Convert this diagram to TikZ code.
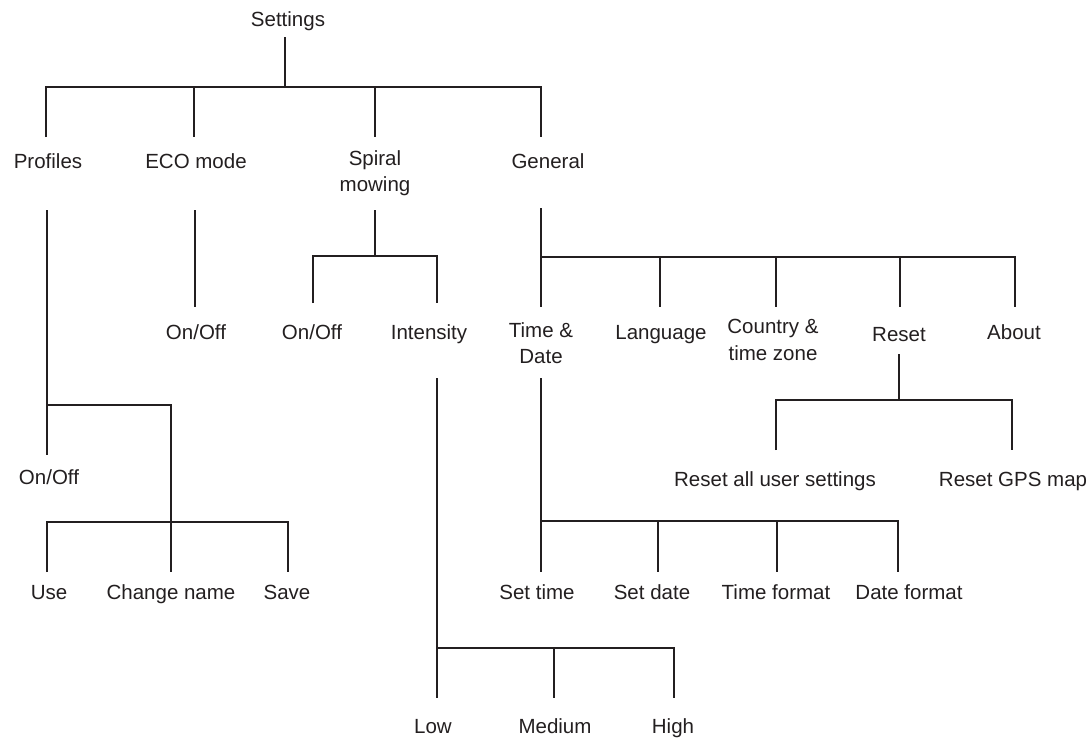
\documentclass[tikz,border=0pt]{standalone}
\usepackage{fontspec}
\setmainfont{Liberation Sans}
\definecolor{ink}{HTML}{231F20}
\begin{document}
\begin{tikzpicture}[x=1pt,y=-1pt,
  lbl/.style={inner sep=0pt,align=center,text=ink,font=\fontsize{20.5}{26.5}\selectfont},
  one/.style={lbl,anchor=base},
  ln/.style={draw=ink,line width=2.2pt}]
\useasboundingbox (0,0) rectangle (1092,739);
% nodes (single-line nodes placed by baseline)
\node[one] (settings) at (288,26) {Settings};
\node[one] (profiles) at (48,168) {Profiles};
\node[one] (eco) at (196,168) {ECO mode};
\node[lbl] (spiral) at (375,173) {Spiral\\mowing};
\node[one] (general) at (548,168) {General};
\node[one] (pon) at (49,484) {On/Off};
\node[one] (use) at (49,599) {Use};
\node[one] (chname) at (171,599) {Change name};
\node[one] (save) at (287,599) {Save};
\node[one] (ecoon) at (196,339) {On/Off};
\node[one] (spon) at (312,339) {On/Off};
\node[one] (intens) at (429,339) {Intensity};
\node[one] (low) at (433,733) {Low};
\node[one] (medium) at (555,733) {Medium};
\node[one] (high) at (673,733) {High};
\node[lbl] (timedate) at (541,343) {Time \&\\Date};
\node[one] (language) at (661,339) {Language};
\node[lbl] (country) at (773,340) {Country \&\\time zone};
\node[one] (reset) at (899,341) {Reset};
\node[one] (about) at (1014,339) {About};
\node[one] (resetall) at (775,486) {Reset all user settings};
\node[one] (resetgps) at (1013,486) {Reset GPS map};
\node[one] (settime) at (537,599) {Set time};
\node[one] (setdate) at (652,599) {Set date};
\node[one] (timefmt) at (776,599) {Time format};
\node[one] (datefmt) at (909,599) {Date format};
% connectors
\draw[ln] (285,37) -- (285,87);
\draw[ln] (46,137) |- (541,87) -- (541,137);
\draw[ln] (194,87) -- (194,137);
\draw[ln] (375,87) -- (375,137);
% Profiles
\draw[ln] (47,210) -- (47,455);
\draw[ln] (47,405) -| (171,522);
\draw[ln] (47,572) |- (288,522) -- (288,572);
\draw[ln] (171,522) -- (171,572);
% ECO
\draw[ln] (195,210) -- (195,307);
% Spiral
\draw[ln] (375,210) -- (375,256);
\draw[ln] (313,303) |- (437,256) -- (437,303);
\draw[ln] (437,378) -- (437,698);
\draw[ln] (437,648) -| (674,698);
\draw[ln] (554,648) -- (554,698);
% General
\draw[ln] (541,208) -- (541,307);
\draw[ln] (541,257) -| (1015,307);
\draw[ln] (660,257) -- (660,307);
\draw[ln] (776,257) -- (776,307);
\draw[ln] (900,257) -- (900,307);
% Reset
\draw[ln] (899,354) -- (899,400);
\draw[ln] (776,450) |- (1012,400) -- (1012,450);
% Time & Date
\draw[ln] (541,378) -- (541,572);
\draw[ln] (541,521) -| (898,572);
\draw[ln] (658,521) -- (658,572);
\draw[ln] (777,521) -- (777,572);
\end{tikzpicture}
\end{document}
